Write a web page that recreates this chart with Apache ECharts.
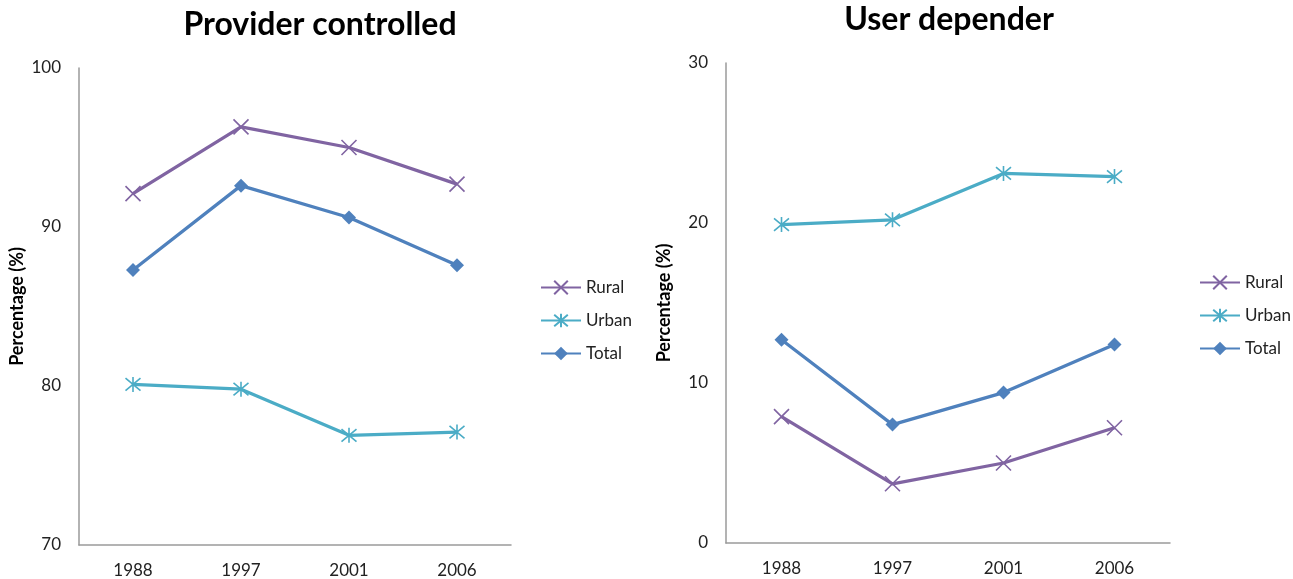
<!DOCTYPE html>
<html>
<head>
<meta charset="utf-8">
<script src="https://cdn.jsdelivr.net/npm/echarts@6/dist/echarts.min.js"></script>
<style>
  html, body { margin: 0; padding: 0; background: #fff; }
  #chart { width: 1293px; height: 579px; }
</style>
</head>
<body>
<div id="chart"></div>
<script>
// Survey years on the horizontal axis
const years = ['1988', '1997', '2001', '2006'];

// Provider controlled methods (%)
const providerRural = [92.1, 96.3, 95.0, 92.7];
const providerUrban = [80.1, 79.8, 76.9, 77.1];
const providerTotal = [87.3, 92.6, 90.6, 87.6];

// User dependent methods (%)
const userRural = [7.9, 3.7, 5.0, 7.2];
const userUrban = [19.9, 20.2, 23.1, 22.9];
const userTotal = [12.7, 7.4, 9.4, 12.4];

const FONT = 'Lato, "Open Sans", sans-serif';
const COLORS = { Rural: '#8064A2', Urban: '#4BACC6', Total: '#4F81BD' };
const SYMBOLS = {
  Rural: 'path://M0,0L10,10M10,0L0,10',
  Urban: 'path://M0,0L10,10M10,0L0,10M5,-1L5,11',
  Total: 'diamond'
};

function makeSeries(name, data, idx) {
  const isDiamond = name === 'Total';
  return {
    name: name,
    type: 'line',
    xAxisIndex: idx,
    yAxisIndex: idx,
    data: data,
    symbol: SYMBOLS[name],
    symbolSize: isDiamond ? 14 : 15,
    showAllSymbol: true,
    lineStyle: { color: COLORS[name], width: 3.3 },
    itemStyle: isDiamond
      ? { color: COLORS[name] }
      : { color: 'rgba(0,0,0,0)', borderColor: COLORS[name], borderWidth: 1.6 },
    emphasis: { disabled: true },
    animation: false
  };
}

const axisLine = { show: true, lineStyle: { color: '#9a9a9a', width: 1.5 } };
const labelStyle = { color: '#222', fontSize: 17, fontFamily: FONT };

function xAxis(idx) {
  return {
    type: 'category', gridIndex: idx, data: years,
    axisLine: axisLine, axisTick: { show: false },
    axisLabel: Object.assign({ margin: 17 }, labelStyle)
  };
}
function yAxis(idx, min, max) {
  return {
    type: 'value', gridIndex: idx, min: min, max: max, interval: 10,
    axisLine: axisLine, axisTick: { show: false }, splitLine: { show: false },
    axisLabel: Object.assign({ margin: 18 }, labelStyle),
    name: 'Percentage (%)', nameLocation: 'middle', nameGap: 53,
    nameTextStyle: { fontFamily: FONT, fontWeight: 'bold', fontSize: 18, color: '#000' }
  };
}
function legend(left, top) {
  return {
    left: left, top: top, orient: 'vertical', itemGap: 16,
    itemWidth: 40, itemHeight: 17,
    data: ['Rural', 'Urban', 'Total'],
    textStyle: { fontFamily: FONT, fontSize: 17, color: '#222' },
    selectedMode: false
  };
}

const chart = echarts.init(document.getElementById('chart'), null, { renderer: 'canvas' });
chart.setOption({
  backgroundColor: '#fff',
  animation: false,
  title: [
    { text: 'Provider controlled', left: 315, top: 4, textAlign: 'center',
      textStyle: { fontFamily: FONT, fontWeight: 'bold', fontSize: 32, color: '#000' } },
    { text: 'User depender', left: 944, top: -1, textAlign: 'center',
      textStyle: { fontFamily: FONT, fontWeight: 'bold', fontSize: 32, color: '#000' } }
  ],
  legend: [legend(535, 274), legend(1194, 269)],
  grid: [
    { left: 79, top: 68, width: 432, height: 479 },
    { left: 726, top: 63, width: 444, height: 480 }
  ],
  xAxis: [xAxis(0), xAxis(1)],
  yAxis: [yAxis(0, 70, 100), yAxis(1, 0, 30)],
  series: [
    makeSeries('Rural', providerRural, 0),
    makeSeries('Urban', providerUrban, 0),
    makeSeries('Total', providerTotal, 0),
    makeSeries('Rural', userRural, 1),
    makeSeries('Urban', userUrban, 1),
    makeSeries('Total', userTotal, 1)
  ]
});
</script>
</body>
</html>
